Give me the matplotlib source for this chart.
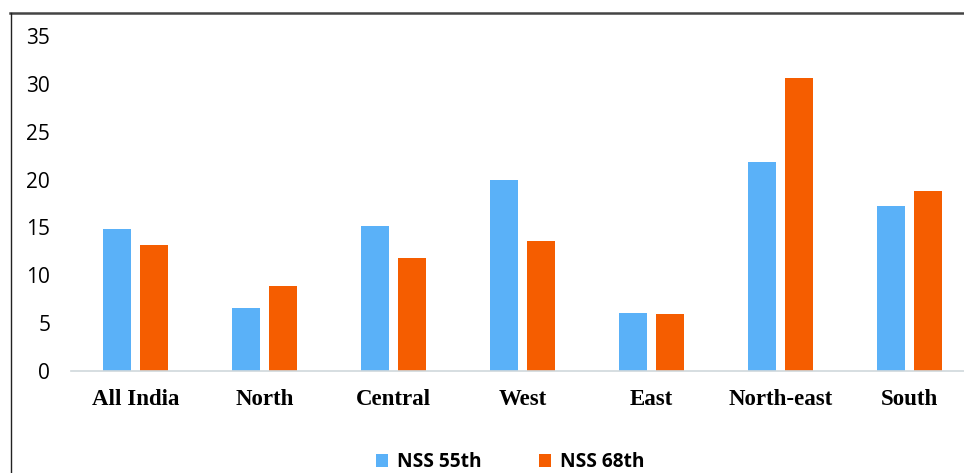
import matplotlib.pyplot as plt
import numpy as np

# values
regions = ["All India", "North", "Central", "West", "East", "North-east", "South"]
nss_55th = [14.8, 6.6, 15.1, 20.0, 6.0, 21.8, 17.2]
nss_68th = [13.1, 8.9, 11.8, 13.6, 5.9, 30.7, 18.8]
y_ticks = [0, 5, 10, 15, 20, 25, 30, 35]

BLUE = "#5AB1F8"
ORANGE = "#F55D00"

fig = plt.figure(figsize=(9.64, 4.73), dpi=100)
ax = fig.add_axes([71 / 964, 102.5 / 473, 1 - 71 / 964, 334 / 473])

x = np.arange(len(regions))
w = 0.216
off = 0.143
ax.bar(x - off, nss_55th, w, color=BLUE, label="NSS 55th")
ax.bar(x + off, nss_68th, w, color=ORANGE, label="NSS 68th")

ax.set_xlim(-0.5, 6.42)
ax.set_ylim(0, 35)
ax.set_yticks(y_ticks)
ax.set_yticklabels([str(t) for t in y_ticks], family="Open Sans", fontsize=15)
ax.set_xticks(x)
ax.set_xticklabels(regions, family="Liberation Serif", fontweight="bold", fontsize=16.5)
ax.tick_params(axis="y", length=0, pad=15)
ax.tick_params(axis="x", length=0, pad=13)

for s in ["top", "right", "left"]:
    ax.spines[s].set_visible(False)
ax.spines["bottom"].set_color("#D0D8DC")
ax.spines["bottom"].set_linewidth(1.2)

# frame around the chart (cropped figure box)
fig.add_artist(plt.Line2D([10 / 964, 1], [1 - 13 / 473, 1 - 13 / 473],
                          color="#444444", lw=1.8, transform=fig.transFigure))
fig.add_artist(plt.Line2D([10.5 / 964, 10.5 / 964], [0, 1 - 13 / 473],
                          color="#222222", lw=1.0, transform=fig.transFigure))

leg = fig.legend(loc="center", bbox_to_anchor=(510 / 964, 1 - 462 / 473), ncol=2,
                 frameon=False, handlelength=0.65, handleheight=0.65,
                 columnspacing=3.0, handletextpad=0.45,
                 prop={"family": "Open Sans", "weight": "bold", "size": 13.8})

fig.savefig("out.png", dpi=100)
